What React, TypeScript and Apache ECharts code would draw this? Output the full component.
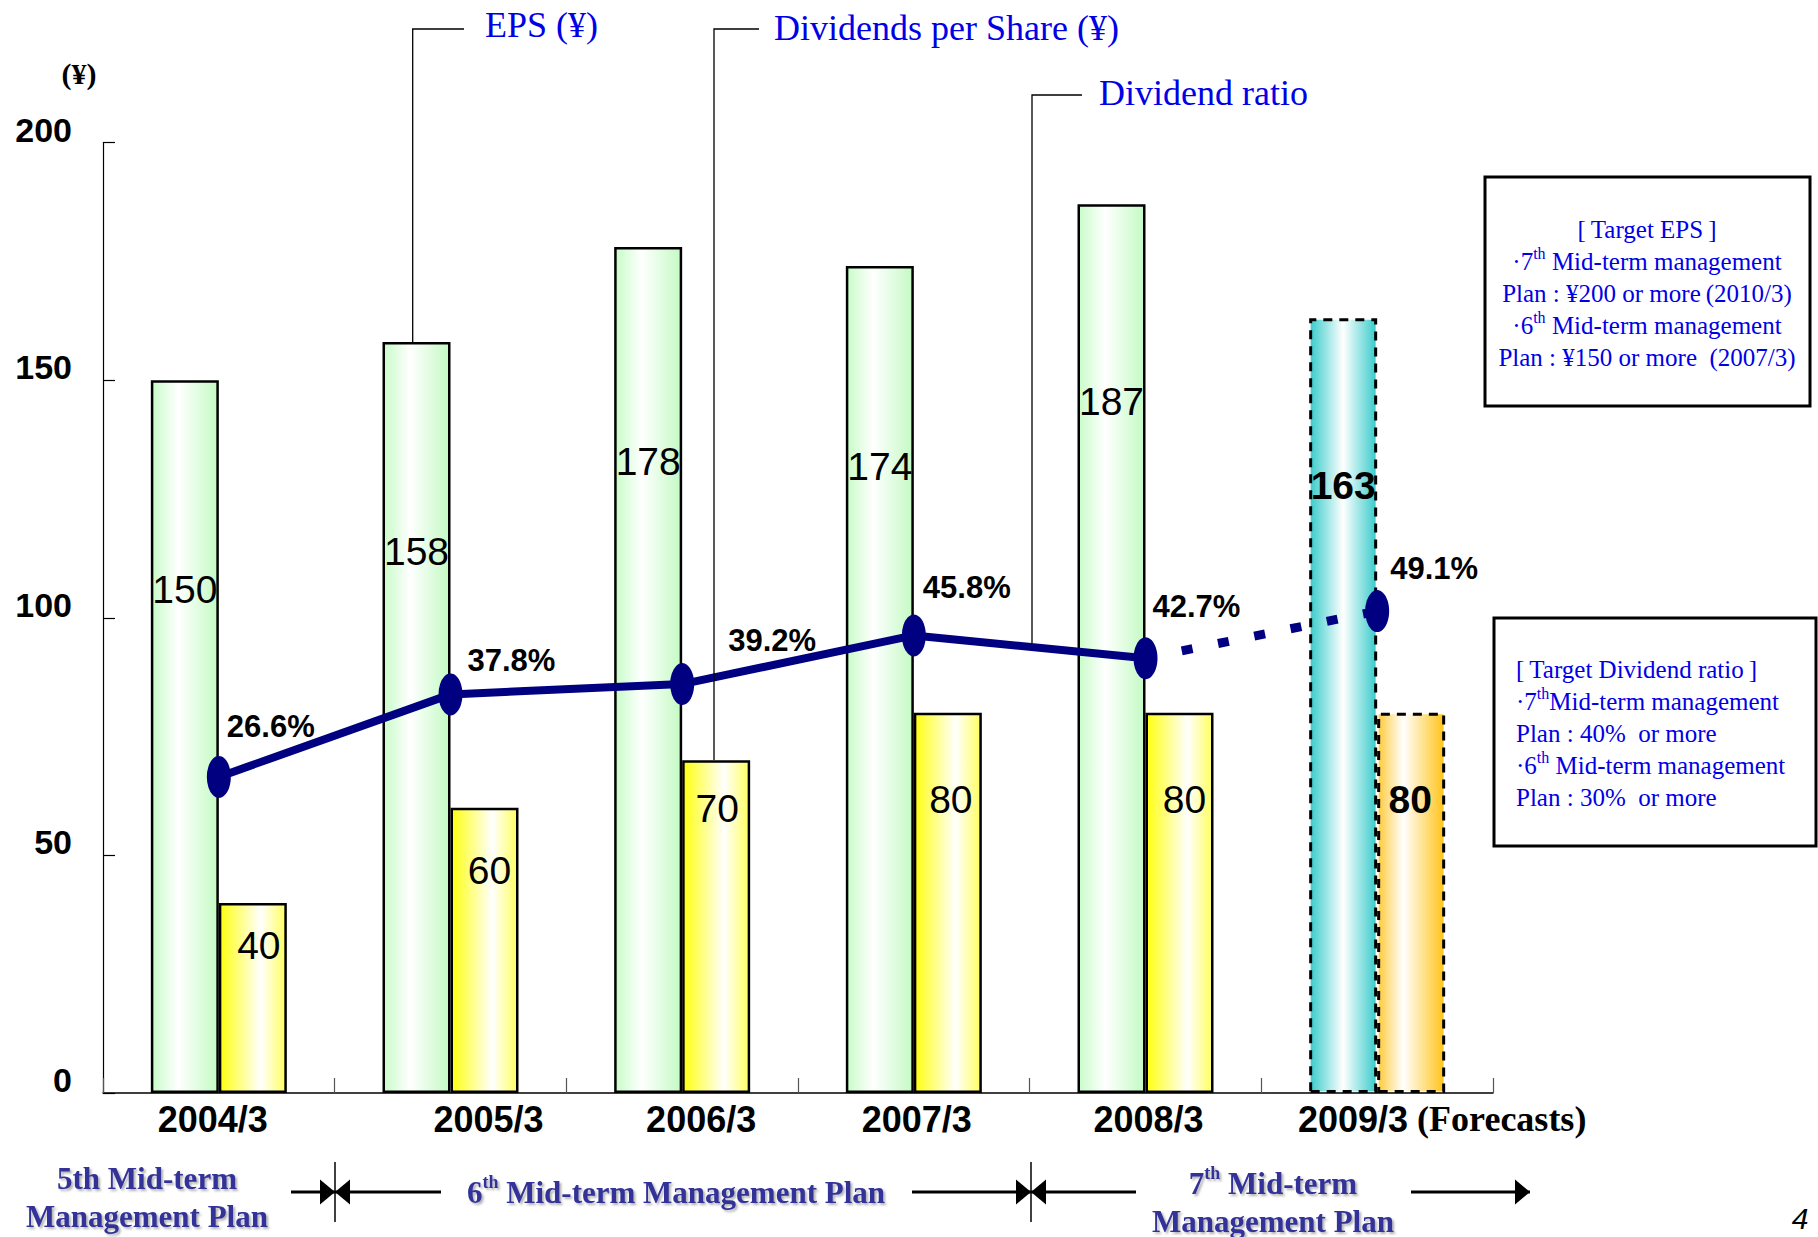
import React, { useEffect, useRef } from 'react';
import * as echarts from 'echarts';

// Fiscal years and per-share figures
const categories = ['2004/3', '2005/3', '2006/3', '2007/3', '2008/3', '2009/3'];
const forecastSuffix = ' (Forecasts)';
const forecastIndex = 5;
const epsValues = [150, 158, 178, 174, 187, 163];
const dpsValues = [40, 60, 70, 80, 80, 80];
const payoutRatio = [26.6, 37.8, 39.2, 45.8, 42.7, 49.1];
const yAxisMin = 0;
const yAxisMax = 200;
const yAxisInterval = 50;

// Label placement tweaks, in pixels
const epsLabelDrop = [209, 209, 214, 200, 197, 167];
const dpsLabelDrop = [43, 63, 48, 87, 87, 87];
const dpsLabelShift = [6, 5, 1, 3, 5, -1];
const ratioLabelOffset = [
  [8, -50],
  [17, -34],
  [46, -44],
  [9, -48],
  [7, -52],
  [13, -43],
];
const categoryLabelShift = [-6, 38, 19, 3, 3];

const SANS = "'Liberation Sans', Arial, Helvetica, sans-serif";
const SERIF = "'Liberation Serif', 'Times New Roman', 'DejaVu Serif', serif";
const BLUE = '#0000e6';
const NAVY = '#000080';
const PLAN_BLUE = '#333399';

const W = 1818;
const H = 1237;
const GRID = { left: 103, right: 325, top: 142.5, bottom: 144 };

const hGrad = (stops: [number, string][]) =>
  new echarts.graphic.LinearGradient(
    0,
    0,
    1,
    0,
    stops.map(([offset, color]) => ({ offset, color }))
  );

const measure = (font: string, text: string) => {
  const ctx = document.createElement('canvas').getContext('2d');
  if (!ctx) return text.length * 18;
  ctx.font = font;
  return ctx.measureText(text).width;
};

export default function App() {
  const ref = useRef<HTMLDivElement>(null);

  useEffect(() => {
    if (!ref.current) return;
    const chart = echarts.init(ref.current, null, { renderer: 'svg' });

    const epsFill = hGrad([
      [0, '#c8fcc8'],
      [0.4, '#ffffff'],
      [1, '#c4fac4'],
    ]);
    const dpsFill = hGrad([
      [0, '#ffff10'],
      [0.62, '#ffffff'],
      [1, '#ffff60'],
    ]);
    const epsForecastFill = hGrad([
      [0, '#3ccccc'],
      [0.5, '#ffffff'],
      [1, '#3ccccc'],
    ]);
    const dpsForecastFill = hGrad([
      [0, '#ffcc40'],
      [0.38, '#ffffff'],
      [1, '#ffc41a'],
    ]);

    const valueFont = { fontFamily: SANS, fontSize: 39, color: '#000' };

    const epsData = epsValues.map((v, i) => {
      const fc = i === forecastIndex;
      return {
        value: v,
        itemStyle: fc
          ? { color: epsForecastFill, borderColor: '#000', borderWidth: 3, borderType: [9, 7] }
          : { color: epsFill, borderColor: '#000', borderWidth: 2.5 },
        label: {
          show: true,
          position: 'insideTop',
          distance: 0,
          verticalAlign: 'middle',
          offset: [0, epsLabelDrop[i]],
          ...valueFont,
          fontWeight: fc ? 'bold' : 'normal',
        },
      };
    });

    const dpsData = dpsValues.map((v, i) => {
      const fc = i === forecastIndex;
      return {
        value: v,
        itemStyle: fc
          ? { color: dpsForecastFill, borderColor: '#000', borderWidth: 3, borderType: [9, 7] }
          : { color: dpsFill, borderColor: '#000', borderWidth: 2.5 },
        label: {
          show: true,
          position: 'insideTop',
          distance: 0,
          verticalAlign: 'middle',
          offset: [dpsLabelShift[i], dpsLabelDrop[i]],
          ...valueFont,
          fontWeight: fc ? 'bold' : 'normal',
        },
      };
    });

    const ratioLabel = (i: number) => ({
      show: true,
      position: 'inside',
      align: 'left',
      verticalAlign: 'middle',
      offset: ratioLabelOffset[i],
      fontFamily: SANS,
      fontWeight: 'bold',
      fontSize: 31,
      color: '#000',
      formatter: (p: any) => `${Number(p.value).toFixed(1)}%`,
    });

    const solidRatio = payoutRatio.map((v, i) =>
      i < forecastIndex ? { value: v, label: ratioLabel(i) } : '-'
    );
    const dashedRatio = payoutRatio.map((v, i) =>
      i === forecastIndex
        ? { value: v, label: ratioLabel(i) }
        : i === forecastIndex - 1
        ? { value: v, symbol: 'none' }
        : '-'
    );

    // x-axis labels: shifted per category via rich padding
    const labelBold = `bold 36px ${SANS}`;
    const suffixBold = `bold 36px ${SERIF}`;
    const fullW =
      measure(labelBold, categories[forecastIndex]) + measure(suffixBold, forecastSuffix);
    const catW = (W - GRID.left - GRID.right) / categories.length;
    const fcCenter = GRID.left + catW * (forecastIndex + 0.5);
    const fcPad = fullW - 2 * (fcCenter - 1298);

    const rich: Record<string, any> = {};
    categories.forEach((_, i) => {
      const base = { fontFamily: SANS, fontWeight: 'bold', fontSize: 36, color: '#000' };
      if (i === forecastIndex) {
        rich[`c${i}`] = { ...base, padding: fcPad >= 0 ? [0, 0, 0, fcPad] : [0, -fcPad, 0, 0] };
      } else {
        const s = categoryLabelShift[i] * 2;
        rich[`c${i}`] = { ...base, padding: s >= 0 ? [0, 0, 0, s] : [0, -s, 0, 0] };
      }
    });
    rich.f = { fontFamily: SERIF, fontWeight: 'bold', fontSize: 36, color: '#000' };

    const planText = {
      fontFamily: SERIF,
      fontWeight: 'bold',
      fontSize: 31,
      fill: PLAN_BLUE,
      textShadowColor: 'rgba(60,60,60,0.4)',
      textShadowOffsetX: 2,
      textShadowOffsetY: 2,
      textShadowBlur: 2,
    };
    const planRich = {
      b: { fontFamily: SERIF, fontWeight: 'bold', fontSize: 31, fill: PLAN_BLUE, lineHeight: 38 },
      sup: {
        fontFamily: SERIF,
        fontWeight: 'bold',
        fontSize: 18,
        fill: PLAN_BLUE,
        lineHeight: 38,
        verticalAlign: 'top',
        padding: [0, 0, 14, 0],
      },
    };

    const boxRich = {
      t: { fontFamily: SERIF, fontSize: 25, fill: BLUE, lineHeight: 32 },
      s: {
        fontFamily: SERIF,
        fontSize: 16,
        fill: BLUE,
        lineHeight: 32,
        verticalAlign: 'top',
        padding: [0, 0, 12, 0],
      },
    };

    const leader = (points: number[][]) => ({
      type: 'polyline',
      shape: { points },
      style: { stroke: '#000', lineWidth: 1.3, fill: null },
      z: 5,
    });
    const calloutText = (x: number, y: number, text: string) => ({
      type: 'text',
      x,
      y,
      style: {
        text,
        fontFamily: SERIF,
        fontSize: 36,
        fill: BLUE,
        textAlign: 'left',
        textVerticalAlign: 'middle',
      },
      z: 5,
    });

    const arrowY = 1192;
    const seg = (x1: number, x2: number) => ({
      type: 'line',
      shape: { x1, y1: arrowY, x2, y2: arrowY },
      style: { stroke: '#000', lineWidth: 3 },
    });
    const head = (tip: number, dir: 1 | -1) => ({
      type: 'polygon',
      shape: {
        points: [
          [tip - dir * 15, arrowY - 12.5],
          [tip, arrowY],
          [tip - dir * 15, arrowY + 12.5],
        ],
      },
      style: { fill: '#000' },
    });
    const divider = (x: number) => ({
      type: 'line',
      shape: { x1: x, y1: 1162, x2: x, y2: 1222 },
      style: { stroke: '#000', lineWidth: 1.5 },
    });

    chart.setOption({
      animation: false,
      backgroundColor: '#ffffff',
      grid: { ...GRID, containLabel: false },
      xAxis: {
        type: 'category',
        data: categories,
        boundaryGap: true,
        axisLine: { show: true, lineStyle: { color: '#000', width: 1.5 } },
        axisTick: { show: true, inside: true, length: 15, lineStyle: { color: '#555', width: 1.2 } },
        axisLabel: {
          interval: 0,
          margin: 8,
          formatter: (v: string, i: number) =>
            i === forecastIndex ? `{c${i}|${v}}{f|${forecastSuffix}}` : `{c${i}|${v}}`,
          rich,
        },
        splitLine: { show: false },
      },
      yAxis: [
        {
          type: 'value',
          min: yAxisMin,
          max: yAxisMax,
          interval: yAxisInterval,
          axisLine: { show: true, lineStyle: { color: '#000', width: 1.2 } },
          axisTick: { show: true, inside: true, length: 12, lineStyle: { color: '#000', width: 1.2 } },
          axisLabel: {
            margin: 31,
            fontFamily: SANS,
            fontWeight: 'bold',
            fontSize: 34,
            color: '#000',
            verticalAlign: 'bottom',
            lineHeight: 26,
          },
          splitLine: { show: false },
        },
        {
          type: 'value',
          show: false,
          min: -16.3,
          max: 112.7,
          splitLine: { show: false },
        },
      ],
      series: [
        {
          name: 'EPS (¥)',
          type: 'bar',
          data: epsData,
          barWidth: 68,
          barGap: '0%',
          z: 2,
        },
        {
          name: 'Dividends per Share (¥)',
          type: 'bar',
          data: dpsData,
          barWidth: 68,
          barGap: '0%',
          z: 2,
        },
        {
          name: 'Dividend ratio',
          type: 'line',
          yAxisIndex: 1,
          data: solidRatio,
          symbol: 'circle',
          symbolSize: [24, 42],
          itemStyle: { color: NAVY },
          lineStyle: { color: NAVY, width: 8 },
          connectNulls: false,
          z: 4,
        },
        {
          name: 'Dividend ratio (Forecasts)',
          type: 'line',
          yAxisIndex: 1,
          data: dashedRatio,
          symbol: 'circle',
          symbolSize: [24, 42],
          itemStyle: { color: NAVY },
          lineStyle: { color: NAVY, width: 9, type: [11, 26], cap: 'butt' },
          z: 4,
        },
      ],
      graphic: [
        // unit label
        {
          type: 'text',
          x: 79,
          y: 73,
          style: {
            text: '(¥)',
            fontFamily: SERIF,
            fontWeight: 'bold',
            fontSize: 30,
            fill: '#000',
            textAlign: 'center',
            textVerticalAlign: 'middle',
          },
        },
        // callouts
        leader([
          [412.7, 342],
          [412.7, 29],
          [464, 29],
        ]),
        calloutText(485, 25, 'EPS (¥)'),
        leader([
          [714, 760],
          [714, 29],
          [759, 29],
        ]),
        calloutText(774, 28, 'Dividends per Share (¥)'),
        leader([
          [1032, 643],
          [1032, 95],
          [1082, 95],
        ]),
        calloutText(1099, 93, 'Dividend ratio'),
        // target EPS box
        {
          type: 'rect',
          shape: { x: 1485, y: 177, width: 325, height: 229 },
          style: { fill: '#fff', stroke: '#000', lineWidth: 3 },
        },
        {
          type: 'text',
          x: 1647,
          y: 213,
          style: {
            text: [
              '{t|[\u2009Target EPS\u2009]}',
              '{t|·7}{s|th}{t| Mid-term management}',
              '{t|Plan : ¥200 or more\u2009(2010/3)}',
              '{t|·6}{s|th}{t| Mid-term management}',
              '{t|Plan : ¥150 or more\u2002(2007/3)}',
            ].join('\n'),
            rich: boxRich,
            textAlign: 'center',
            textVerticalAlign: 'top',
          },
        },
        // target dividend ratio box
        {
          type: 'rect',
          shape: { x: 1494, y: 618, width: 322, height: 228 },
          style: { fill: '#fff', stroke: '#000', lineWidth: 3 },
        },
        {
          type: 'text',
          x: 1516,
          y: 653,
          style: {
            text: [
              '{t|[\u2009Target Dividend ratio\u2009]}',
              '{t|·7}{s|th}{t|Mid-term management}',
              '{t|Plan : 40%  or more}',
              '{t|·6}{s|th}{t| Mid-term management}',
              '{t|Plan : 30%  or more}',
            ].join('\n'),
            rich: boxRich,
            textAlign: 'left',
            textVerticalAlign: 'top',
          },
        },
        // management plan timeline
        divider(335),
        divider(1031),
        seg(291, 335),
        seg(335, 441),
        seg(912, 1031),
        seg(1031, 1136),
        seg(1411, 1530),
        head(335, 1),
        head(335, -1),
        head(1031, 1),
        head(1031, -1),
        head(1530, 1),
        {
          type: 'text',
          x: 147,
          y: 1197,
          style: {
            ...planText,
            text: '5th Mid-term\nManagement Plan',
            lineHeight: 38,
            textAlign: 'center',
            textVerticalAlign: 'middle',
          },
        },
        {
          type: 'text',
          x: 676,
          y: 1192,
          style: {
            ...planText,
            text: '{b|6}{sup|th}{b| Mid-term Management Plan}',
            rich: planRich,
            textAlign: 'center',
            textVerticalAlign: 'middle',
          },
        },
        {
          type: 'text',
          x: 1273,
          y: 1202,
          style: {
            ...planText,
            text: '{b|7}{sup|th}{b| Mid-term}\n{b|Management Plan}',
            rich: planRich,
            textAlign: 'center',
            textVerticalAlign: 'middle',
          },
        },
        // page number
        {
          type: 'text',
          x: 1800,
          y: 1218,
          style: {
            text: '4',
            fontFamily: SANS,
            fontStyle: 'italic',
            fontSize: 30,
            fill: '#000',
            textAlign: 'center',
            textVerticalAlign: 'middle',
          },
        },
      ],
    });

    return () => chart.dispose();
  }, []);

  return (
    <div
      ref={ref}
      style={{ position: 'absolute', left: 0, top: 0, width: W, height: H, background: '#fff' }}
    />
  );
}
